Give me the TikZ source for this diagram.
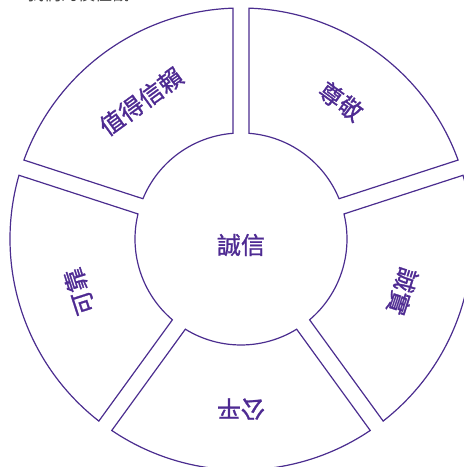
\documentclass[tikz,border=0pt]{standalone}
\usepackage{fontspec}
\newfontfamily\cjk{Noto Sans CJK TC}
\newfontfamily\cjkmed{Noto Sans CJK TC}[FakeBold=1.1]
\definecolor{ringline}{HTML}{4B2D8F}
\definecolor{labeltext}{HTML}{4E2A92}
\begin{document}
\begin{tikzpicture}[x=1pt,y=1pt,
  sector/.style={draw=ringline, line width=1.2pt, line join=miter},
  lab/.style={text=labeltext, font=\cjkmed\fontsize{24}{24}\selectfont, inner sep=0pt},
  titletext/.style={text=black!75, font=\cjk\fontsize{17}{17}\selectfont, inner sep=0pt, anchor=base west}]
\useasboundingbox (0,0) rectangle (464,467);
\coordinate (c) at (241,228);
\pgfmathsetmacro\RingOut{231}
\pgfmathsetmacro\RingIn{106}
\pgfmathsetmacro\GapOut{asin(8/231)}
\pgfmathsetmacro\GapIn{asin(8/106)}
\foreach \a in {18,90,162,234,306}{
  \pgfmathsetmacro\sA{\a+\GapOut}
  \pgfmathsetmacro\eA{\a+72-\GapOut}
  \pgfmathsetmacro\sB{\a+72-\GapIn}
  \pgfmathsetmacro\eB{\a+\GapIn}
  \draw[sector] ([shift={(c)}]\sA:\RingOut) arc[start angle=\sA, end angle=\eA, radius=\RingOut]
     -- ([shift={(c)}]\sB:\RingIn) arc[start angle=\sB, end angle=\eB, radius=\RingIn] -- cycle;
}
\node[lab, rotate=36] (trust) at ([shift={(c)}]126:170) {值得信賴};
\node[lab, rotate=-36] (respect) at ([shift={(c)}]54:170) {尊敬};
\node[lab, rotate=-108] (honest) at ([shift={(c)}]-18:170) {誠實};
\node[lab, rotate=180] (fair) at ([shift={(c)}]270:170) {公平};
\node[lab, rotate=108] (reliable) at ([shift={(c)}]198:170) {可靠};
\node[lab] (integrity) at (241,222) {誠信};
\node[titletext] (title) at (27,466) {我們的價值觀：};
\end{tikzpicture}
\end{document}
